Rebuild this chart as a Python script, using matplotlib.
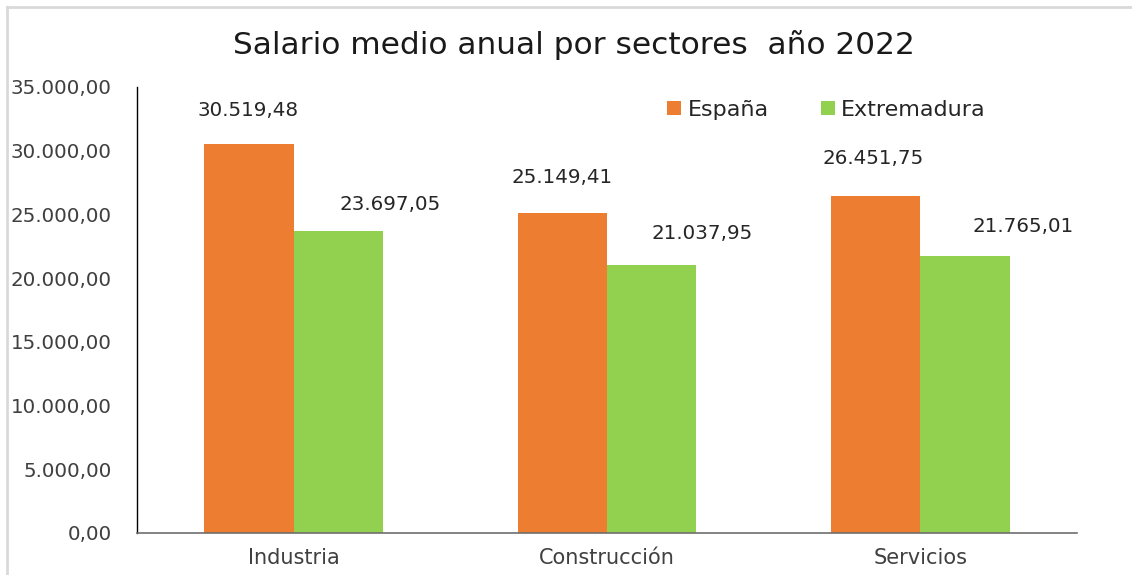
import matplotlib
matplotlib.use("Agg")
import matplotlib.pyplot as plt
from matplotlib.lines import Line2D
import numpy as np

categories = ["Industria", "Construcción", "Servicios"]
espana = [30519.48, 25149.41, 26451.75]
extremadura = [23697.05, 21037.95, 21765.01]
series_names = ["España", "Extremadura"]
yticks = [0, 5000, 10000, 15000, 20000, 25000, 30000, 35000]

# label offsets in pixels (dx, dy) relative to bar top center
esp_offsets = [(-1, 34), (0, 35), (-3, 37)]
ext_offsets = [(52, 27), (50, 31), (58, 29)]

def fmt_es(v):
    s = f"{v:,.2f}"
    return s.replace(",", "X").replace(".", ",").replace("X", ".")

plt.rcParams['font.family'] = ['DejaVu Sans']
fig = plt.figure(figsize=(11.32, 5.75), dpi=100)
W, H = 1132, 575
ax = fig.add_axes([137 / W, 1 - 533 / H, (1077 - 137) / W, (533 - 87) / H])

x = np.arange(len(categories))
bw = 0.285
c_esp = "#ED7D31"
c_ext = "#92D050"
ax.bar(x - bw / 2, espana, bw, color=c_esp, label=series_names[0], zorder=2)
ax.bar(x + bw / 2, extremadura, bw, color=c_ext, label=series_names[1], zorder=2)

for i, v in enumerate(espana):
    ax.annotate(fmt_es(v), (x[i] - bw / 2, v), xytext=esp_offsets[i], textcoords="offset pixels",
                ha="center", va="center", fontsize=14.3, color="#262626")
for i, v in enumerate(extremadura):
    ax.annotate(fmt_es(v), (x[i] + bw / 2, v), xytext=ext_offsets[i], textcoords="offset pixels",
                ha="center", va="center", fontsize=14.3, color="#262626")

ax.set_xlim(-0.5, 2.5)
ax.set_ylim(0, 35000)
ax.set_yticks(yticks)
ax.set_yticklabels([fmt_es(t) for t in yticks], fontsize=14.3, color="#404040")
ax.set_xticks(x)
ax.set_xticklabels(categories, fontsize=15, color="#404040")
ax.tick_params(axis="x", length=0, pad=11)
ax.tick_params(axis="y", length=0, pad=18)
ax.spines["top"].set_visible(False)
ax.spines["right"].set_visible(False)
ax.spines["left"].set_color("#000000")
ax.spines["left"].set_linewidth(1.0)
ax.spines["bottom"].set_color("#6e6e6e")
ax.spines["bottom"].set_linewidth(1.2)

fig.text(574 / W, 1 - 45 / H, "Salario medio anual por sectores  año 2022", ha="center", va="center",
         fontsize=22.5, color="#1a1a1a")

leg = ax.legend(loc="center left", bbox_to_anchor=(667 / W, 1 - 110 / H), bbox_transform=fig.transFigure,
                ncol=2, frameon=False, fontsize=16, handlelength=0.62, handleheight=0.62,
                handletextpad=0.3, columnspacing=2.35, borderpad=0, borderaxespad=0)
for t in leg.get_texts():
    t.set_color("#262626")

# figure border (light gray)
fig.add_artist(Line2D([7 / W, 7 / W], [0, 1 - 7 / H], transform=fig.transFigure, color="#d9d9d9", lw=2))
fig.add_artist(Line2D([7 / W, 1], [1 - 7 / H, 1 - 7 / H], transform=fig.transFigure, color="#d9d9d9", lw=2))

fig.savefig("out.png", dpi=100, facecolor="white")
